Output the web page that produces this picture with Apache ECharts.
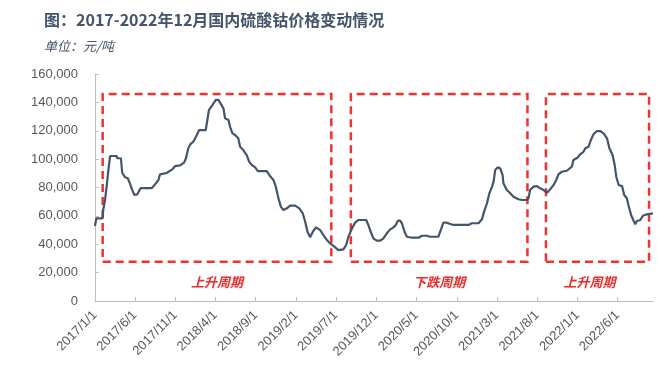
<!DOCTYPE html>
<html>
<head>
<meta charset="utf-8">
<script src="https://cdn.jsdelivr.net/npm/echarts@6/dist/echarts.min.js"></script>
<style>
html,body{margin:0;padding:0;background:#fff;}
#chart{width:659px;height:371px;}
</style>
</head>
<body>
<div id="chart"></div>
<script>
const titleText = '图：2017-2022年12月国内硫酸钴价格变动情况';
const unitText = '单位：元/吨';

const dates = [
'2017-01-01','2017-01-05','2017-01-06','2017-01-30','2017-02-01','2017-02-08','2017-02-14','2017-02-20','2017-02-27','2017-03-24',
'2017-03-26','2017-04-09','2017-04-14','2017-04-25','2017-05-05','2017-05-13','2017-05-21','2017-05-30','2017-06-10','2017-06-23',
'2017-08-04','2017-08-16','2017-08-29','2017-09-04','2017-09-29','2017-10-22','2017-10-31','2017-11-19','2017-12-04','2017-12-11',
'2017-12-20','2017-12-27','2018-01-08','2018-01-18','2018-01-30','2018-02-24','2018-03-04','2018-03-08','2018-03-21','2018-04-03',
'2018-04-13','2018-04-19','2018-05-02','2018-05-08','2018-05-21','2018-05-27','2018-06-05','2018-06-15','2018-06-27','2018-07-04',
'2018-07-16','2018-07-29','2018-08-07','2018-08-17','2018-08-30','2018-09-09','2018-10-13','2018-10-25','2018-11-07','2018-11-16',
'2018-11-26','2018-12-05','2018-12-15','2018-12-28','2019-01-09','2019-01-28','2019-02-13','2019-02-26','2019-03-07','2019-03-16',
'2019-03-26','2019-04-05','2019-04-17','2019-05-03','2019-05-15','2019-05-28','2019-06-09','2019-06-22','2019-07-11','2019-07-30',
'2019-08-09','2019-08-18','2019-08-31','2019-09-12','2019-09-25','2019-10-24','2019-11-01','2019-11-10','2019-11-20','2019-12-03',
'2019-12-16','2019-12-28','2020-01-10','2020-01-23','2020-02-04','2020-02-13','2020-02-21','2020-02-29','2020-03-07','2020-03-17',
'2020-03-26','2020-04-14','2020-05-09','2020-05-22','2020-06-09','2020-06-22','2020-07-23','2020-08-01','2020-08-11','2020-08-24',
'2020-09-18','2020-11-14','2020-11-27','2020-12-22','2021-01-04','2021-01-12','2021-01-23','2021-02-01','2021-02-11','2021-02-17',
'2021-02-23','2021-03-04','2021-03-14','2021-03-23','2021-03-26','2021-04-08','2021-04-21','2021-05-03','2021-05-22','2021-06-04',
'2021-06-20','2021-06-29','2021-07-05','2021-07-18','2021-07-31','2021-08-12','2021-08-25','2021-09-07','2021-09-19','2021-10-02',
'2021-10-12','2021-10-21','2021-11-02','2021-11-21','2021-11-27','2021-12-10','2021-12-16','2021-12-31','2022-01-11','2022-01-23',
'2022-01-30','2022-02-11','2022-02-20','2022-03-02','2022-03-15','2022-03-27','2022-04-09','2022-04-22','2022-05-01','2022-05-13',
'2022-05-21','2022-05-27','2022-06-05','2022-06-18','2022-06-26','2022-07-06','2022-07-12','2022-07-22','2022-08-01','2022-08-07',
'2022-08-13','2022-08-26','2022-09-05','2022-09-20','2022-10-13'
];
const prices = [
52900,52900,58300,58300,64100,71200,80600,91100,102200,102200,
100600,100600,90400,87200,86500,82900,78700,74700,75200,79600,
79600,82200,85300,89300,90200,93000,95100,95600,97500,100600,
107600,110400,112300,115800,120500,120500,129900,134600,138100,141700,
141700,139800,135800,128800,127600,122800,118200,117000,114700,108700,
106400,102900,98200,95900,94200,91600,91600,88100,85300,80600,
72400,66500,64100,65300,67200,67200,65300,61800,55900,48800,
44900,48800,51900,50000,46500,43000,40700,38800,35900,36400,
39500,45300,51200,55200,57100,57100,53600,48800,44200,42500,
42500,44200,47700,50500,51900,53600,56600,56600,54800,48800,
45300,44600,44600,46000,46000,45300,45300,50000,55200,55200,
53600,53600,54800,54800,57600,63000,68900,75900,80600,84100,
92300,94200,93500,88800,83000,78200,75900,73500,71700,71200,
71200,72400,78200,80600,81000,79400,78200,76300,78700,81800,
85300,89500,91100,91800,92300,94700,99400,101000,103400,105200,
107600,108700,113500,117500,119800,119800,118200,114700,107600,102900,
95900,87600,81800,81000,74700,72400,67700,60600,56400,54100,
56400,57100,60100,61100,61800
];

const tickLabels = ['2017/1/1','2017/6/1','2017/11/1','2018/4/1','2018/9/1','2019/2/1','2019/7/1',
  '2019/12/1','2020/5/1','2020/10/1','2021/3/1','2021/8/1','2022/1/1','2022/6/1'];
const axisStart = '2017-01-01';
const axisEnd = '2022-10-13';

const cycleNames = ['上升周期','下跌周期','上升周期'];
const cycleStarts = ['2017-01-30','2019-08-27','2021-09-03'];
const cycleEnds = ['2019-06-14','2021-06-25','2022-09-28'];
const cycleLow = 27700;
const cycleHigh = 145900;

function ts(s){
  const p = s.split(/[-\/]/).map(Number);
  return Date.UTC(p[0], p[1]-1, p[2]);
}
const seriesData = dates.map((d,i)=>[ts(d), prices[i]]);
const tickValues = tickLabels.map(ts);

const labelOffsets = [[0,0],[0,0],[-8,0]];
const areaData = cycleNames.map((n,i)=>[
  {xAxis: ts(cycleStarts[i]), yAxis: cycleLow, name: n, label:{offset: labelOffsets[i]}},
  {xAxis: ts(cycleEnds[i]), yAxis: cycleHigh}
]);

function fmtNum(v){
  return String(v).replace(/\B(?=(\d{3})+(?!\d))/g, ',');
}
function fmtDate(v){
  const d = new Date(v);
  return d.getUTCFullYear()+'/'+(d.getUTCMonth()+1)+'/'+d.getUTCDate();
}

const chart = echarts.init(document.getElementById('chart'), null, {renderer:'canvas'});
const axisFont = '"Liberation Sans", Arial, sans-serif';
chart.setOption({
  animation: false,
  backgroundColor: '#ffffff',
  title: [
    {text: titleText, left: 39, top: 7,
     textStyle: {fontFamily: '"Noto Sans CJK SC", sans-serif', fontSize: 16, fontWeight: 'bold', color: '#44546a'}},
    {text: unitText, left: 39, top: 35,
     textStyle: {fontFamily: '"Noto Sans CJK SC", sans-serif', fontSize: 13, fontWeight: 'normal', fontStyle: 'italic', color: '#44546a'}}
  ],
  grid: {left: 95, right: 6, top: 74, bottom: 70, containLabel: false},
  xAxis: {
    type: 'value',
    min: ts(axisStart),
    max: ts(axisEnd),
    axisLine: {show: true, lineStyle: {color: '#bfbfbf', width: 1}},
    axisTick: {show: true, inside: true, length: 4, lineStyle: {color: '#bfbfbf'}, customValues: tickValues},
    axisLabel: {
      customValues: tickValues,
      rotate: 45, margin: 12,
      color: '#595959', fontSize: 13, fontFamily: axisFont,
      formatter: fmtDate,
      hideOverlap: false
    },
    splitLine: {show: false}
  },
  yAxis: {
    type: 'value',
    min: 0, max: 160000, interval: 20000,
    axisLine: {show: true, lineStyle: {color: '#bfbfbf', width: 1}},
    axisTick: {show: true, inside: true, length: 4, lineStyle: {color: '#bfbfbf'}},
    axisLabel: {color: '#595959', fontSize: 13, fontFamily: axisFont, margin: 17, formatter: fmtNum},
    splitLine: {show: false}
  },
  series: [{
    type: 'line',
    data: seriesData,
    showSymbol: false,
    symbol: 'none',
    smooth: false,
    lineStyle: {color: '#44546a', width: 2.2},
    markArea: {
      silent: true,
      itemStyle: {color: 'rgba(0,0,0,0)', borderColor: '#ee3333', borderWidth: 2.5, borderType: [8,5]},
      label: {show: true, position: 'bottom', distance: 13, color: '#ee2b2b', fontSize: 13,
        fontWeight: 'bold', fontStyle: 'italic', fontFamily: '"Noto Sans CJK SC", sans-serif'},
      data: areaData
    }
  }]
});
</script>
</body>
</html>
